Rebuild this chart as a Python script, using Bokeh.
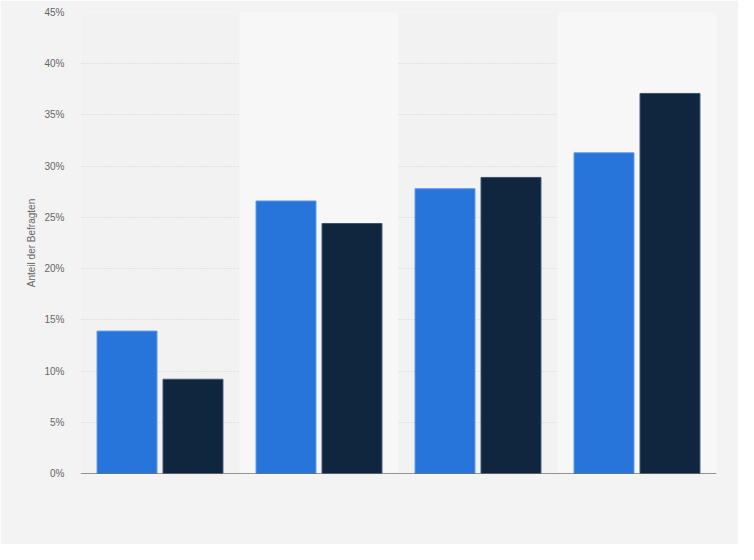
from bokeh.plotting import figure
from bokeh.models import Range1d, Span, FactorRange, NumeralTickFormatter, FixedTicker
from bokeh.transform import dodge
from bokeh.embed import file_html
from bokeh.resources import INLINE

categories = ["Gruppe 1", "Gruppe 2", "Gruppe 3", "Gruppe 4"]
series_a = [13.9, 26.6, 27.8, 31.3]
series_b = [9.2, 24.4, 28.9, 37.1]
y_ticks = [0, 5, 10, 15, 20, 25, 30, 35, 40, 45]
y_label = "Anteil der Befragten"

p = figure(x_range=FactorRange(*categories), y_range=Range1d(0, 45),
           width=738, height=544, output_backend="svg", toolbar_location=None,
           min_border_left=80, min_border_right=22, min_border_top=12, min_border_bottom=71)
p.background_fill_color = "#f2f2f2"
p.border_fill_color = "#f3f3f3"
p.outline_line_color = None

# alternating lighter bands
p.vbar(x=[categories[1], categories[3]], top=[45, 45], bottom=0, width=1.0,
       fill_color="#f7f7f7", line_color=None)

src = dict(cat=categories, a=series_a, b=series_b)
p.vbar(x=dodge("cat", -0.2075, range=p.x_range), top="a", width=0.377, source=src,
       fill_color="#2775db", line_color="#5b97e6", line_width=1)
p.vbar(x=dodge("cat", 0.2075, range=p.x_range), top="b", width=0.377, source=src,
       fill_color="#10263e", line_color="#3e5470", line_width=1)

p.xaxis.visible = False
p.xgrid.grid_line_color = None
p.ygrid.grid_line_color = "#d0d0d0"
p.ygrid.grid_line_dash = "1 2"
p.ygrid.ticker = FixedTicker(ticks=y_ticks)

ya = p.yaxis[0]
ya.ticker = FixedTicker(ticks=y_ticks)
ya.formatter = NumeralTickFormatter(format="0")
ya.major_label_overrides = {t: f"{t}%" for t in y_ticks}
ya.axis_line_color = None
ya.major_tick_line_color = None
ya.minor_tick_line_color = None
ya.major_tick_out = 0
ya.major_tick_in = 0
ya.minor_tick_out = 0
ya.major_label_standoff = 16
ya.major_label_text_font = "Liberation Sans"
ya.major_label_text_font_size = "10px"
ya.major_label_text_color = "#666666"
ya.axis_label = y_label
ya.axis_label_text_font = "Liberation Sans"
ya.axis_label_text_font_size = "10px"
ya.axis_label_text_font_style = "normal"
ya.axis_label_text_color = "#666666"
ya.axis_label_standoff = 4

p.add_layout(Span(location=0, dimension="width", line_color="#333333", line_width=1))

open("out.html", "w").write(file_html(p, INLINE))
